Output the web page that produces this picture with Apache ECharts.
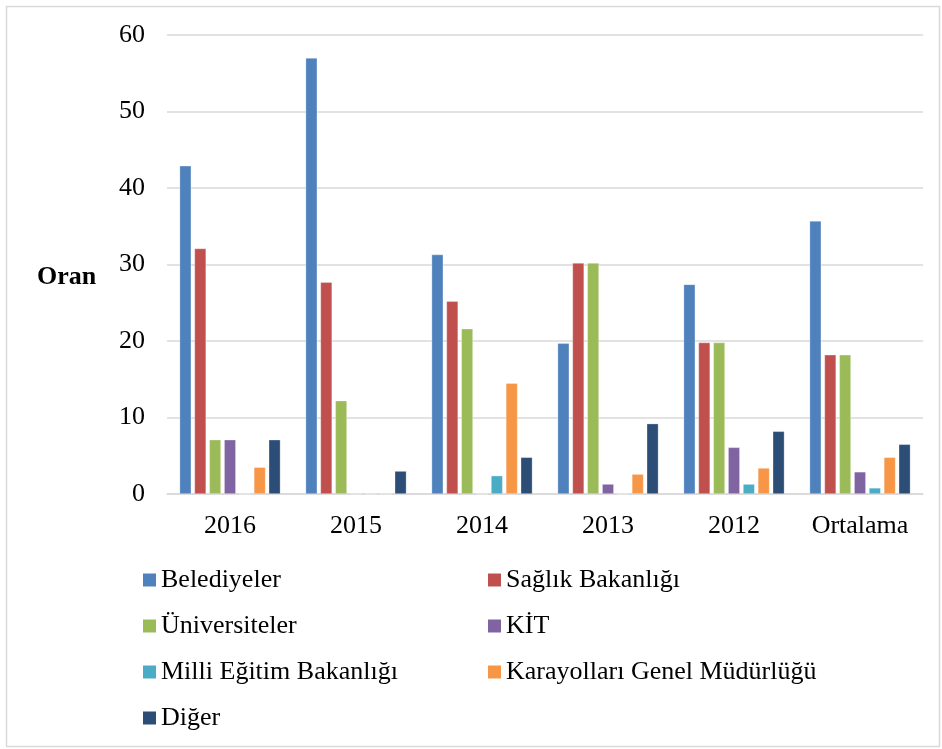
<!DOCTYPE html>
<html>
<head>
<meta charset="utf-8">
<script src="https://cdn.jsdelivr.net/npm/echarts@6/dist/echarts.min.js"></script>
<style>
html,body{margin:0;padding:0;background:#fff;}
#chart{width:942px;height:749px;}
</style>
</head>
<body>
<div id="chart"></div>
<script>
var categories = ['2016', '2015', '2014', '2013', '2012', 'Ortalama'];
var seriesNames = ['Belediyeler', 'Sağlık Bakanlığı', 'Üniversiteler', 'KİT', 'Milli Eğitim Bakanlığı', 'Karayolları Genel Müdürlüğü', 'Diğer'];
var belediyeler = [42.9, 57.0, 31.3, 19.7, 27.4, 35.7];
var saglik = [32.1, 27.7, 25.2, 30.2, 19.8, 18.2];
var universiteler = [7.1, 12.2, 21.6, 30.2, 19.8, 18.2];
var kit = [7.1, 0, 0, 1.3, 6.1, 2.9];
var milliEgitim = [0, 0, 2.4, 0, 1.3, 0.8];
var karayollari = [3.5, 0, 14.5, 2.6, 3.4, 4.8];
var diger = [7.1, 3.0, 4.8, 9.2, 8.2, 6.5];
var yTicks = [0, 10, 20, 30, 40, 50, 60];

var values = [belediyeler, saglik, universiteler, kit, milliEgitim, karayollari, diger];
var colors = ['#4F81BD', '#C0504D', '#9BBB59', '#8064A2', '#4BACC6', '#F79646', '#2C4D75'];
var FONT = "'Liberation Serif', 'Times New Roman', serif";

var chart = echarts.init(document.getElementById('chart'));
var series = seriesNames.map(function (n, i) {
  return {
    name: n,
    type: 'bar',
    data: values[i],
    barWidth: 11.7,
    barGap: '27%',
    itemStyle: { color: colors[i], borderColor: 'rgba(255,255,255,0.5)', borderWidth: 0.6 },
    emphasis: { disabled: true }
  };
});

var legendCommon = {
  orient: 'vertical',
  icon: 'rect',
  itemWidth: 13,
  itemHeight: 13,
  itemTextGap: 7,
  itemGap: 20,
  padding: 0,
  selectedMode: false,
  itemStyle: { borderWidth: 0 },
  textStyle: { fontFamily: FONT, fontSize: 26, color: '#000', lineHeight: 26 }
};

chart.setOption({
  animation: false,
  color: colors,
  graphic: [
    { type: 'rect', silent: true, shape: { x: 6.5, y: 6.5, width: 933, height: 740 },
      style: { fill: 'none', stroke: '#d9d9d9', lineWidth: 1.5 } },
    { type: 'text', silent: true, left: 37, top: 264,
      style: { text: 'Oran', font: 'bold 26px ' + FONT, fill: '#000' } }
  ],
  grid: { left: 167, right: 19, top: 35, bottom: 255, containLabel: false },
  xAxis: {
    type: 'category',
    data: categories,
    axisLine: { show: true, lineStyle: { color: '#d9d9d9', width: 1.5 } },
    axisTick: { show: false },
    axisLabel: { fontFamily: FONT, fontSize: 26, color: '#000', margin: 19 }
  },
  yAxis: {
    type: 'value',
    min: yTicks[0],
    max: yTicks[yTicks.length - 1],
    interval: 10,
    axisLine: { show: false },
    axisTick: { show: false },
    splitLine: { lineStyle: { color: '#d9d9d9', width: 1.5 } },
    axisLabel: { fontFamily: FONT, fontSize: 26, color: '#000', margin: 22 }
  },
  legend: [
    Object.assign({}, legendCommon, { left: 143, top: 567, data: [seriesNames[0], seriesNames[2], seriesNames[4], seriesNames[6]] }),
    Object.assign({}, legendCommon, { left: 488, top: 567, data: [seriesNames[1], seriesNames[3], seriesNames[5]] })
  ],
  series: series
});
</script>
</body>
</html>
